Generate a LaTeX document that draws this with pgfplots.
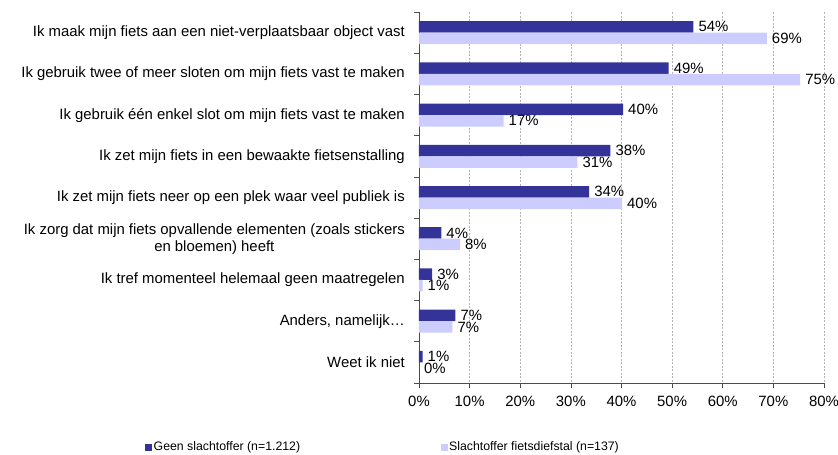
\documentclass[border=0pt]{standalone}
\usepackage{pgfplots}
\pgfplotsset{compat=1.18}
\usepackage{fontspec}
\setmainfont{Liberation Sans}
\definecolor{darkbar}{HTML}{333399}
\definecolor{lightbar}{HTML}{CCCCFF}
\newcommand{\lblfont}{\fontsize{14.9bp}{17bp}\selectfont}
\newcommand{\legfont}{\fontsize{12.3bp}{14bp}\selectfont}
\begin{document}
\begin{tikzpicture}
\path[use as bounding box] (-419bp,-72bp) rectangle (419bp,383bp);
\begin{axis}[
  scale only axis, width=405bp, height=371bp,
  xbar, bar width=11.5bp,
  xmin=0, xmax=80, ymin=-0.5, ymax=8.5, y dir=reverse,
  axis lines*=left,
  axis line style={black!70, line width=0.7bp},
  xtick={0,10,...,80},
  xticklabel={\pgfmathprintnumber{\tick}\%},
  ytick={0,...,8},
  yticklabels={
    Ik maak mijn fiets aan een niet-verplaatsbaar object vast,
    Ik gebruik twee of meer sloten om mijn fiets vast te maken,
    Ik gebruik één enkel slot om mijn fiets vast te maken,
    Ik zet mijn fiets in een bewaakte fietsenstalling,
    Ik zet mijn fiets neer op een plek waar veel publiek is,
    {Ik zorg dat mijn fiets opvallende elementen (zoals stickers\\en bloemen) heeft},
    Ik tref momenteel helemaal geen maatregelen,
    {Anders, namelijk…},
    Weet ik niet},
  minor ytick={-0.5,0.5,...,8.5},
  tick align=outside,
  major tick length=5bp, minor tick length=5bp,
  every major y tick/.append style={draw=none},
  tick style={black!70, line width=0.7bp},
  xmajorgrids=true,
  major grid style={black!30, dash pattern=on 2bp off 1.5bp, line width=0.6bp},
  /pgf/number format/assume math mode=true,
  tick label style={font=\lblfont},
  yticklabel style={align=center, inner sep=0pt, anchor=east, xshift=-9bp},
  xticklabel style={inner sep=0pt, yshift=-8bp},
  point meta=x,
  nodes near coords={\pgfmathprintnumber[fixed,precision=0]{\pgfplotspointmeta}\%},
  every node near coord/.append style={font=\lblfont, anchor=west, inner sep=1bp, xshift=4bp},
  legend columns=2,
  legend style={at={(-0.6765,-0.1725)}, anchor=west, draw=none, fill=none,
    font=\legfont, inner sep=0pt,
    nodes={inner sep=1.5bp},
    /tikz/every even column/.append style={column sep=139bp}},
  legend image code/.code={\fill[#1] (0bp,-3.5bp) rectangle (7bp,3.5bp);},
]
\addplot[fill=darkbar, draw=none, bar shift=5.75bp] coordinates {
  (54.2,0) (49.3,1) (40.3,2) (37.8,3) (33.6,4) (4.4,5) (2.6,6) (7.2,7) (0.7,8)};
\addlegendentry{Geen slachtoffer (n=1.212)}
\addplot[fill=lightbar, draw=none, bar shift=-5.75bp] coordinates {
  (68.7,0) (75.3,1) (16.7,2) (31.3,3) (40.1,4) (8.1,5) (0.7,6) (6.6,7) (0,8)};
\addlegendentry{Slachtoffer fietsdiefstal (n=137)}
\end{axis}
\end{tikzpicture}
\end{document}
